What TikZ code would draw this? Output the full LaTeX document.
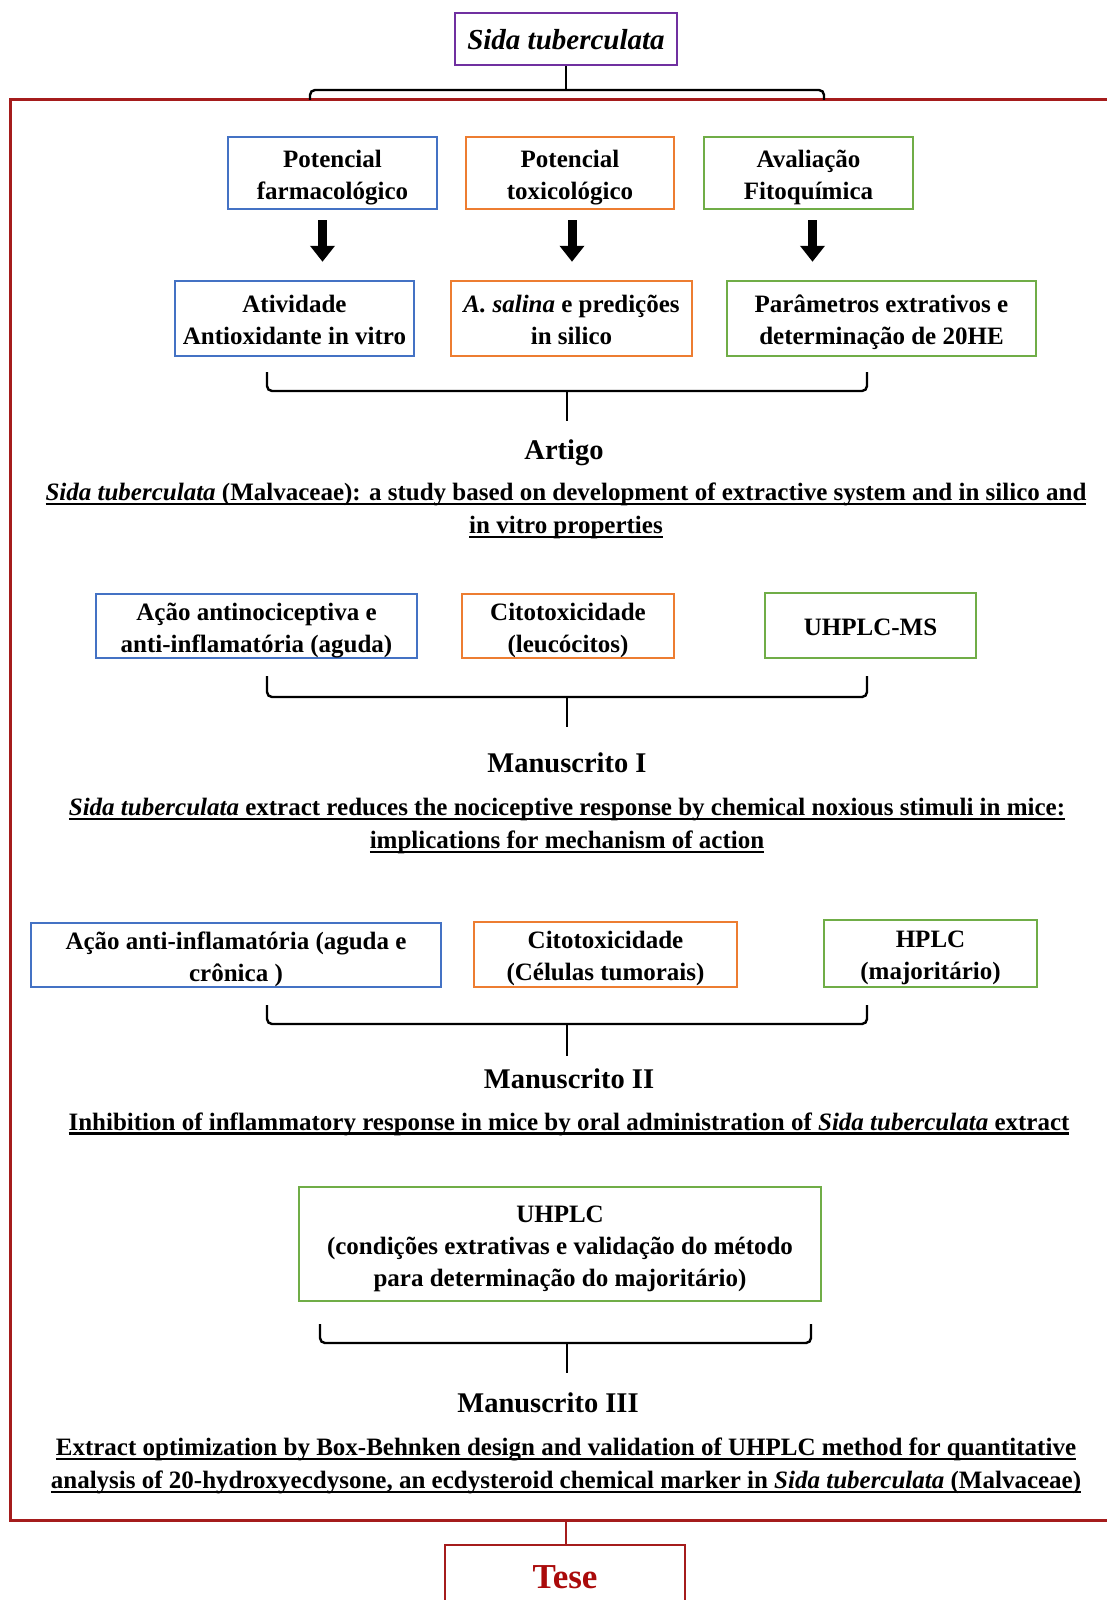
\documentclass[tikz,border=0pt]{standalone}
\usepackage{fontspec}
\setmainfont{Liberation Serif}
\usetikzlibrary{arrows.meta,calc}
\definecolor{cblue}{RGB}{68,114,196}
\definecolor{corange}{RGB}{237,125,49}
\definecolor{cgreen}{RGB}{112,173,71}
\definecolor{cpurple}{RGB}{112,48,160}
\definecolor{cframe}{RGB}{165,28,28}
\definecolor{ctese}{RGB}{170,10,10}
\newcommand\bfbody{\fontsize{25}{32}\selectfont\bfseries}
\newcommand\bfhead{\fontsize{28.5}{33}\selectfont\bfseries}
\newcommand\ts{\rule{0pt}{26pt}}
\newcommand\bs{\rule[-6pt]{0pt}{6pt}}
\newsavebox\ulxbox
\newcommand\ulx[1]{\sbox\ulxbox{#1}\rlap{\rule[-4.5pt]{\wd\ulxbox}{2.2pt}}\usebox\ulxbox}
\begin{document}
\begin{tikzpicture}[x=1pt,y=-1pt,
  bx/.style={draw, line width=2.5pt, align=center, inner sep=0pt, font=\bfbody, text=black},
  bluebox/.style={bx, draw=cblue},
  orangebox/.style={bx, draw=corange},
  greenbox/.style={bx, draw=cgreen},
  bigarrow/.style={line width=9pt, -{Triangle[width=24pt,length=16pt]}},
  bracel/.style={line width=2.4pt, rounded corners=5pt},
  stemline/.style={line width=2.6pt},
  head/.style={font=\bfhead, inner sep=0pt},
  ttl/.style={font=\bfbody, align=center, inner sep=0pt}]
\clip (0,0) rectangle (1107,1600);
\fill[white] (0,0) rectangle (1107,1600);

% outer frame
\draw[cframe, line width=3pt] (10,100) rectangle (1125,1520);

% top
\node[draw=cpurple, line width=2.5pt, minimum width=222pt, minimum height=52pt, inner sep=0pt,
      font=\fontsize{29}{33}\selectfont\bfseries\itshape] (sida) at (566,39) {\rule{0pt}{27pt}Sida tuberculata\rule[-5pt]{0pt}{5pt}};
\coordinate (tl) at (310,100);
\coordinate (tr) at (824,100);
\coordinate (tm) at (566,90);
\draw[bracel] (tl) -- (tl|-tm) -- (tr|-tm) -- (tr);
\draw[stemline] (sida.south) -- (tm);

% row 1
\node[bluebox, minimum width=209pt, minimum height=72pt] (pf) at (332.5,173) {\ts Potencial\\farmacológico\bs};
\node[orangebox, minimum width=208pt, minimum height=72pt] (pt) at (570,173) {\ts Potencial\\toxicológico\bs};
\node[greenbox, minimum width=209pt, minimum height=72pt] (af) at (808.5,173) {\ts Avaliação\\Fitoquímica\bs};

% row 2
\node[bluebox, minimum width=239pt, minimum height=75pt] (aa) at (294.5,318.5) {\ts Atividade\\Antioxidante in vitro\bs};
\node[orangebox, minimum width=241pt, minimum height=75pt] (as) at (571.5,318.5) {\ts\textit{A. salina} e predições\\in silico\bs};
\node[greenbox, minimum width=309pt, minimum height=75pt] (pe) at (881.5,318.5) {\ts Parâmetros extrativos e\\determinação de 20HE\bs};

\draw[bigarrow] ($(pf.south)+(-10,10)$) -- ($(aa.north -| pf.south)+(-10,-18)$);
\draw[bigarrow] ($(pt.south)+(2,10)$) -- ($(as.north -| pt.south)+(2,-18)$);
\draw[bigarrow] ($(af.south)+(4,10)$) -- ($(pe.north -| af.south)+(4,-18)$);

% brace 1
\coordinate (b1l) at (267,372);
\coordinate (b1r) at (867,372);
\coordinate (b1m) at (567,391);
\coordinate (b1s) at (567,421);
\draw[bracel] (b1l) -- (b1l|-b1m) -- (b1r|-b1m) -- (b1r);
\draw[stemline] (b1m) -- (b1s);

\node[head] (artigo) at (564,453) {Artigo};
\node[ttl] (t1) at (566,511) {\ulx{\textit{Sida tuberculata} (Malvaceae): a study based on development of extractive system and in silico and}\\[1pt]\ulx{in vitro properties}};

% row 3
\node[bluebox, minimum width=321pt, minimum height=62pt] (an) at (256.5,626) {\ts Ação antinociceptiva e\\anti-inflamatória (aguda)\bs};
\node[orangebox, minimum width=212pt, minimum height=63pt] (ct) at (568,626) {\ts Citotoxicidade\\(leucócitos)\bs};
\node[greenbox, minimum width=211pt, minimum height=65pt] (um) at (870.5,625.5) {\ts UHPLC-MS\bs};

\coordinate (b2l) at (267,676);
\coordinate (b2r) at (867,676);
\coordinate (b2m) at (567,697);
\coordinate (b2s) at (567,727);
\draw[bracel] (b2l) -- (b2l|-b2m) -- (b2r|-b2m) -- (b2r);
\draw[stemline] (b2m) -- (b2s);

\node[head] (m1) at (567,763) {Manuscrito I};
\node[ttl] (t2) at (567,826) {\ulx{\textit{Sida tuberculata} extract reduces the nociceptive response by chemical noxious stimuli in mice:}\\[1pt]\ulx{implications for mechanism of action}};

% row 4
\node[bluebox, minimum width=410pt, minimum height=64pt] (ai) at (236,955) {\ts Ação anti-inflamatória (aguda e\\crônica )\bs};
\node[orangebox, minimum width=263pt, minimum height=65pt] (cc) at (605.5,954.5) {\ts Citotoxicidade\\(Células tumorais)\bs};
\node[greenbox, minimum width=213pt, minimum height=67pt] (hp) at (930.5,953.5) {\ts HPLC\\(majoritário)\bs};

\coordinate (b3l) at (267,1005);
\coordinate (b3r) at (867,1005);
\coordinate (b3m) at (567,1024);
\coordinate (b3s) at (567,1056);
\draw[bracel] (b3l) -- (b3l|-b3m) -- (b3r|-b3m) -- (b3r);
\draw[stemline] (b3m) -- (b3s);

\node[head] (m2) at (569,1079) {Manuscrito II};
\node[ttl] (t3) at (569,1124) {\ulx{Inhibition of inflammatory response in mice by oral administration of \textit{Sida tuberculata} extract}};

% row 5
\node[greenbox, minimum width=522pt, minimum height=114pt] (uh) at (560,1244) {\ts UHPLC\\(condições extrativas e validação do método\\para determinação do majoritário)\bs};

\coordinate (b4l) at (320,1324);
\coordinate (b4r) at (811,1324);
\coordinate (b4m) at (567,1343);
\coordinate (b4s) at (567,1373);
\draw[bracel] (b4l) -- (b4l|-b4m) -- (b4r|-b4m) -- (b4r);
\draw[stemline] (b4m) -- (b4s);

\node[head] (m3) at (548,1403) {Manuscrito III};
\node[ttl] (t4) at (566,1466) {\ulx{Extract optimization by Box-Behnken design and validation of UHPLC method for quantitative}\\[1pt]\ulx{analysis of 20-hydroxyecdysone, an ecdysteroid chemical marker in \textit{Sida tuberculata} (Malvaceae)}};

% Tese
\node[draw=cframe, line width=2.5pt, minimum width=240pt, minimum height=64pt, inner sep=0pt,
      text=ctese, font=\fontsize{35}{38}\selectfont\bfseries] (tese) at (565,1577) {Tese};
\coordinate (fb) at (566,1520);
\draw[cframe, line width=2.5pt] (fb) -- (tese.north -| fb);
\end{tikzpicture}
\end{document}
